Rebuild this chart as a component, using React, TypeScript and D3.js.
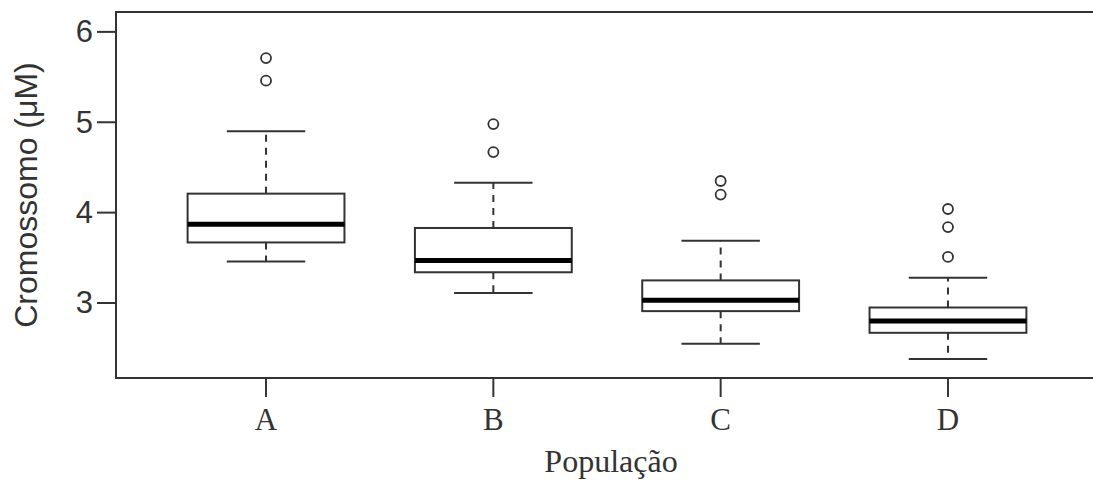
import React from "react";
import * as d3 from "d3";

// values
const categories = ["A", "B", "C", "D"];
const lowerWhisker = [3.46, 3.11, 2.55, 2.38];
const q1 = [3.67, 3.34, 2.91, 2.67];
const medians = [3.87, 3.47, 3.03, 2.8];
const q3 = [4.21, 3.83, 3.25, 2.95];
const upperWhisker = [4.9, 4.33, 3.69, 3.28];
const outliers = [
  [5.46, 5.71],
  [4.67, 4.98],
  [4.2, 4.35],
  [3.51, 3.84, 4.04],
];
const yTicks = [3, 4, 5, 6];

const W = 1093;
const H = 482;
const ink = "#333";

const App = () => {
  // plot region (R-like: categories at 1..4, xlim 0.34..4.66, right edge cut off)
  const left = 116;
  const right = 1098;
  const top = 12;
  const bottom = 378;

  const x = d3.scaleLinear().domain([0.34, 4.66]).range([left, right]);
  const y = d3.scaleLinear().domain([2.17, 6.22]).range([bottom, top]);

  const step = x(2) - x(1);
  const boxW = step * 0.69;
  const capW = boxW / 2;

  return (
    <div style={{ position: "fixed", left: 0, top: 0, width: W, height: H, overflow: "hidden", background: "#fff" }}>
      <svg width={W} height={H} style={{ display: "block" }}>
        {/* frame: left, top and bottom lines; the right side falls outside the picture */}
        <line x1={left} x2={W} y1={top} y2={top} stroke={ink} strokeWidth={2} />
        <line x1={left} x2={W} y1={bottom} y2={bottom} stroke={ink} strokeWidth={2} />
        <line x1={left} x2={left} y1={top - 1} y2={bottom + 1} stroke={ink} strokeWidth={2} />

        {/* y axis */}
        <g>
          {yTicks.map((t) => (
            <g key={t}>
              <line x1={left - 19} x2={left} y1={y(t)} y2={y(t)} stroke={ink} strokeWidth={2} />
              <text
                x={left - 23}
                y={y(t)}
                textAnchor="end"
                dominantBaseline="central"
                fontFamily="Liberation Sans, Arial, sans-serif"
                fontSize={31}
                fill={ink}
              >
                {t}
              </text>
            </g>
          ))}
          <text
            transform={`translate(37, ${(top + bottom) / 2}) rotate(-90)`}
            textAnchor="middle"
            fontFamily="Liberation Sans, Arial, sans-serif"
            fontSize={32}
            fill={ink}
          >
            Cromossomo (μM)
          </text>
        </g>

        {/* x axis */}
        <g>
          {categories.map((c, i) => (
            <g key={c}>
              <line x1={x(i + 1)} x2={x(i + 1)} y1={bottom} y2={bottom + 19} stroke={ink} strokeWidth={2} />
              <text
                x={x(i + 1)}
                y={430}
                textAnchor="middle"
                fontFamily="Liberation Serif, Times New Roman, serif"
                fontSize={31}
                fill={ink}
              >
                {c}
              </text>
            </g>
          ))}
          <text
            x={(left + right) / 2 + 4}
            y={472}
            textAnchor="middle"
            fontFamily="Liberation Serif, Times New Roman, serif"
            fontSize={32}
            fill={ink}
          >
            População
          </text>
        </g>

        {/* boxes */}
        {categories.map((c, i) => {
          const cx = x(i + 1);
          return (
            <g key={c}>
              <line x1={cx} x2={cx} y1={y(q3[i])} y2={y(upperWhisker[i])} stroke={ink} strokeWidth={2} strokeDasharray="7,6" />
              <line x1={cx} x2={cx} y1={y(q1[i])} y2={y(lowerWhisker[i])} stroke={ink} strokeWidth={2} strokeDasharray="7,6" />
              <line x1={cx - capW / 2} x2={cx + capW / 2} y1={y(upperWhisker[i])} y2={y(upperWhisker[i])} stroke={ink} strokeWidth={2} />
              <line x1={cx - capW / 2} x2={cx + capW / 2} y1={y(lowerWhisker[i])} y2={y(lowerWhisker[i])} stroke={ink} strokeWidth={2} />
              <rect
                x={cx - boxW / 2}
                y={y(q3[i])}
                width={boxW}
                height={y(q1[i]) - y(q3[i])}
                fill="#fff"
                stroke={ink}
                strokeWidth={2}
              />
              <line x1={cx - boxW / 2} x2={cx + boxW / 2} y1={y(medians[i])} y2={y(medians[i])} stroke="#000" strokeWidth={5} />
              {outliers[i].map((o, j) => (
                <circle key={j} cx={cx} cy={y(o)} r={5} fill="none" stroke={ink} strokeWidth={1.8} />
              ))}
            </g>
          );
        })}
      </svg>
    </div>
  );
};

export default App;
